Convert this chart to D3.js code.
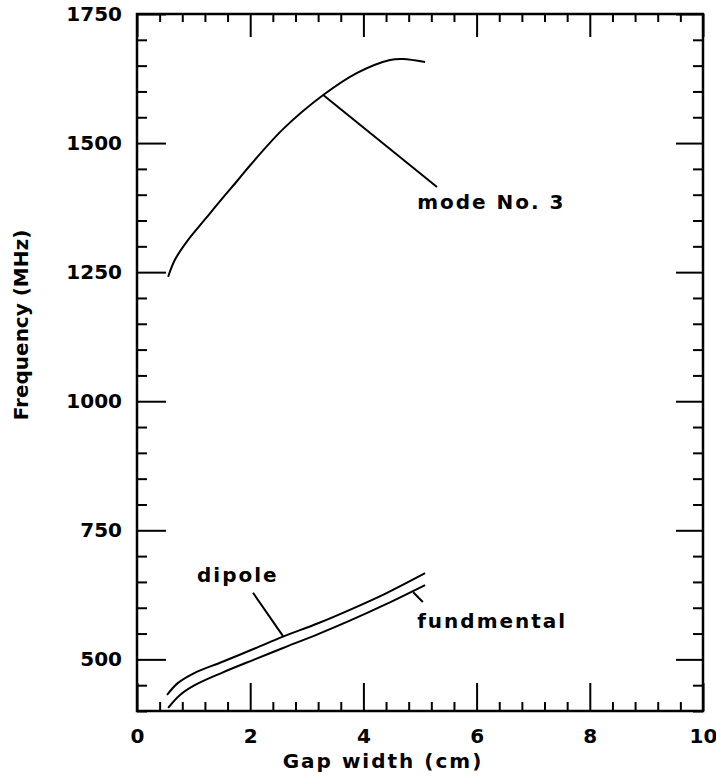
<!DOCTYPE html>
<html>
<head>
<meta charset="utf-8">
<script src="https://cdn.jsdelivr.net/npm/d3@7"></script>
<style>
  body { margin: 0; background: #fff; }
  text { font-family: "DejaVu Sans", sans-serif; font-weight: bold; fill: #000; }
</style>
</head>
<body>
<script>
// Values
const modeX = [0.55, 0.67, 0.9, 1.2, 1.5, 1.78, 2.0, 2.58, 3.29, 3.89, 4.47, 4.7, 5.09];
const modeY = [1241, 1274, 1312, 1352, 1392, 1428, 1457, 1527, 1593, 1636, 1661, 1663, 1657];

const dipoleX = [0.53, 0.72, 1.02, 1.5, 2.08, 2.58, 3.2, 3.76, 4.4, 5.09];
const dipoleY = [431, 454, 474, 495, 521, 544, 570, 596, 628, 667];

const fundX = [0.55, 0.76, 1.02, 1.5, 2.08, 2.58, 3.2, 3.76, 4.4, 5.09];
const fundY = [406, 431, 450, 474, 500, 522, 549, 575, 607, 644];

const xMajor = [0, 2, 4, 6, 8, 10];
const yMajor = [500, 750, 1000, 1250, 1500, 1750];

// leader lines [x1, y1, x2, y2] in data units
const leaders = [
	[3.29, 1593, 5.3, 1415],
	[2.05, 629, 2.58, 545],
	[4.88, 630, 5.05, 611]
];
const labels = [
	{ text: "mode No. 3", x: 4.95, y: 1372 },
	{ text: "dipole", x: 1.06, y: 650 },
	{ text: "fundmental", x: 4.95, y: 561 }
];

const width = 716, height = 778;
const margin = { top: 14, right: 13, bottom: 67, left: 137 };
const innerW = width - margin.left - margin.right;
const innerH = height - margin.top - margin.bottom;

const x = d3.scaleLinear().domain([0, 10]).range([0, innerW]);
const y = d3.scaleLinear().domain([400, 1750]).range([innerH, 0]);

const svg = d3.select("body").append("svg")
	.attr("width", width)
	.attr("height", height);

const g = svg.append("g").attr("transform", `translate(${margin.left},${margin.top})`);

const xMinor = d3.range(0, 10.01, 0.4).map(v => +v.toFixed(1)).filter(v => !xMajor.includes(v));
const yMinor = d3.range(400, 1751, 50).filter(v => !yMajor.includes(v));

function styleAxis(sel) {
	sel.select(".domain").remove();
	sel.selectAll(".tick line").attr("stroke", "#000").attr("stroke-width", 2);
	sel.selectAll("text").attr("font-size", 20);
}

// bottom
g.append("g").attr("transform", `translate(0,${innerH})`)
	.call(d3.axisBottom(x).tickValues(xMinor).tickSize(-9).tickFormat(""))
	.call(styleAxis);
g.append("g").attr("transform", `translate(0,${innerH})`)
	.call(d3.axisBottom(x).tickValues(xMajor).tickSize(-28).tickPadding(18).tickFormat(d3.format("d")))
	.call(styleAxis);
// top
g.append("g")
	.call(d3.axisTop(x).tickValues(xMinor).tickSize(-8).tickFormat(""))
	.call(styleAxis);
g.append("g")
	.call(d3.axisTop(x).tickValues(xMajor).tickSize(-23).tickFormat(""))
	.call(styleAxis);
// left
g.append("g")
	.call(d3.axisLeft(y).tickValues(yMinor).tickSize(-10).tickFormat(""))
	.call(styleAxis);
g.append("g")
	.call(d3.axisLeft(y).tickValues(yMajor).tickSize(-29).tickPadding(15).tickFormat(d3.format("d")))
	.call(styleAxis);
// right
g.append("g").attr("transform", `translate(${innerW},0)`)
	.call(d3.axisRight(y).tickValues(yMinor).tickSize(-10).tickFormat(""))
	.call(styleAxis);
g.append("g").attr("transform", `translate(${innerW},0)`)
	.call(d3.axisRight(y).tickValues(yMajor).tickSize(-27).tickFormat(""))
	.call(styleAxis);

// frame
g.append("rect")
	.attr("width", innerW)
	.attr("height", innerH)
	.attr("fill", "none")
	.attr("stroke", "#000")
	.attr("stroke-width", 2.5);

const line = d3.line()
	.x(d => x(d[0]))
	.y(d => y(d[1]))
	.curve(d3.curveCatmullRom.alpha(0.5));

const series = [
	d3.zip(modeX, modeY),
	d3.zip(dipoleX, dipoleY),
	d3.zip(fundX, fundY)
];

g.selectAll("path.curve")
	.data(series)
	.enter().append("path")
	.attr("class", "curve")
	.attr("d", line)
	.attr("fill", "none")
	.attr("stroke", "#000")
	.attr("stroke-width", 2);

g.selectAll("line.leader")
	.data(leaders)
	.enter().append("line")
	.attr("class", "leader")
	.attr("x1", d => x(d[0]))
	.attr("y1", d => y(d[1]))
	.attr("x2", d => x(d[2]))
	.attr("y2", d => y(d[3]))
	.attr("stroke", "#000")
	.attr("stroke-width", 2);

g.selectAll("text.note")
	.data(labels)
	.enter().append("text")
	.attr("class", "note")
	.attr("x", d => x(d.x))
	.attr("y", d => y(d.y))
	.attr("font-size", 20)
	.attr("letter-spacing", 2)
	.text(d => d.text);

// axis titles
svg.append("text")
	.attr("x", 383)
	.attr("y", 768)
	.attr("text-anchor", "middle")
	.attr("font-size", 20)
	.attr("letter-spacing", 2)
	.text("Gap width (cm)");

svg.append("text")
	.attr("transform", "translate(28,325) rotate(-90)")
	.attr("text-anchor", "middle")
	.attr("font-size", 20)
	.text("Frequency (MHz)");
</script>
</body>
</html>
